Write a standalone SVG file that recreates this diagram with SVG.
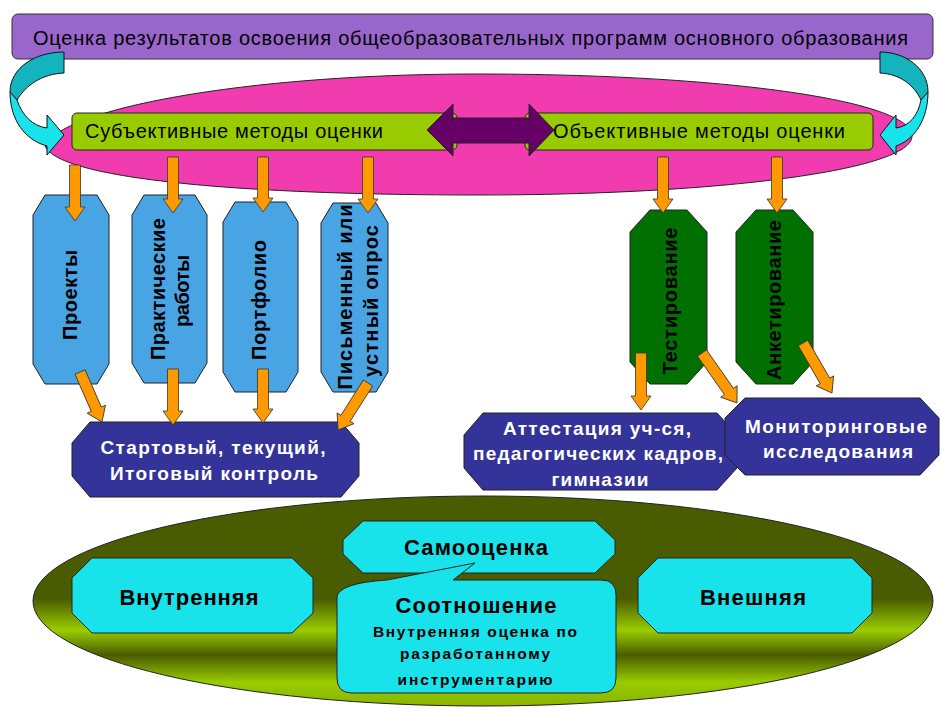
<svg xmlns="http://www.w3.org/2000/svg" width="941" height="707" viewBox="0 0 941 707">
<defs>
<linearGradient id="olive" gradientUnits="userSpaceOnUse" x1="0" y1="496" x2="0" y2="706">
<stop offset="0" stop-color="#4A5C00"/>
<stop offset="0.49" stop-color="#4A5C00"/>
<stop offset="0.64" stop-color="#99CC00"/>
<stop offset="0.757" stop-color="#4A5C00"/>
<stop offset="0.886" stop-color="#99CC00"/>
<stop offset="1" stop-color="#88B500"/>
</linearGradient>
<style>
text{font-family:"Liberation Sans",Arial,sans-serif}
.reg{font-size:20px;fill:#000}
.vb{font-size:20px;font-weight:bold;fill:#000}
.wb{font-size:19px;font-weight:bold;fill:#fff}
.cb{font-size:22px;font-weight:bold;fill:#000}
.sb{font-size:15.5px;font-weight:bold;fill:#000}
.blue{fill:#49A4E4;stroke:#222;stroke-width:1}
.green{fill:#007000;stroke:#222;stroke-width:1}
.navy{fill:#333399;stroke:#222;stroke-width:1}
.cyan{fill:#18E3EB;stroke:#222;stroke-width:1}
.lime{fill:#99CC00;stroke:#222;stroke-width:1}
.arr{fill:#FF9900;stroke:#333;stroke-width:0.8}
</style>
</defs>
<rect width="941" height="707" fill="#fff"/>

<g id="title">
<rect x="12" y="14" width="921" height="45" rx="6" fill="#9966CC" stroke="#333" stroke-width="1"/>
<text class="reg" x="33" y="45" textLength="875">Оценка результатов освоения общеобразовательных программ основного образования</text>
</g>

<g id="methods-ellipse">
<path d="M45,146 C60,110 240,74 478,74 C720,74 912,100 912,136 C912,170 720,195 478,195 C250,195 60,180 45,146 Z" fill="#F03CAF" stroke="#222" stroke-width="1"/>
</g>

<g id="subjective">
<rect class="lime" x="72" y="113" width="385" height="37" rx="5"/>
<text class="reg" x="85" y="138" textLength="298">Субъективные методы оценки</text>
</g>
<g id="objective">
<rect class="lime" x="525" y="113" width="348" height="37" rx="5"/>
<text class="reg" x="553" y="138" textLength="292">Объективные методы оценки</text>
</g>

<g id="projects">
<polygon class="blue" points="45,195 97,195 109,215 109,364 97,384 45,384 33,364 33,215"/>
<text class="vb" transform="translate(77,295) rotate(-90)" text-anchor="middle" textLength="90">Проекты</text>
</g>
<g id="practical">
<polygon class="blue" points="144,195 195,195 207,215 207,363 195,383 144,383 132,363 132,215"/>
<text class="vb" transform="translate(165,289) rotate(-90)" text-anchor="middle" textLength="142">Практические</text>
<text class="vb" transform="translate(189,291) rotate(-90)" text-anchor="middle" textLength="72">работы</text>
</g>
<g id="portfolio">
<polygon class="blue" points="235,202 286,202 298,222 298,372 286,392 235,392 223,372 223,222"/>
<text class="vb" transform="translate(266,300) rotate(-90)" text-anchor="middle" textLength="120">Портфолио</text>
</g>
<g id="survey">
<polygon class="blue" points="333,203 376,203 388,223 388,372 376,392 333,392 321,372 321,223"/>
<text class="vb" transform="translate(352,297) rotate(-90)" text-anchor="middle" textLength="185">Письменный или</text>
<text class="vb" transform="translate(378,301) rotate(-90)" text-anchor="middle" textLength="152">устный опрос</text>
</g>

<g id="testing">
<polygon class="green" points="650,210 687,210 707,232 707,362 687,384 650,384 630,362 630,232"/>
<text class="vb" transform="translate(677,301) rotate(-90)" text-anchor="middle" textLength="147">Тестирование</text>
</g>
<g id="questionnaire">
<polygon class="green" points="756,210 793,210 813,232 813,362 793,384 756,384 736,362 736,232"/>
<text class="vb" transform="translate(781,300) rotate(-90)" text-anchor="middle" textLength="160">Анкетирование</text>
</g>

<g id="control">
<polygon class="navy" points="90,422 341,422 359,443 359,476 341,497 90,497 72,476 72,443"/>
<text class="wb" x="213" y="454" text-anchor="middle" textLength="225">Стартовый, текущий,</text>
<text class="wb" x="214" y="480" text-anchor="middle" textLength="208">Итоговый контроль</text>
</g>
<g id="attestation">
<polygon class="navy" points="483,413 717,413 737,435 737,468 717,490 483,490 464,468 464,435"/>
<text class="wb" x="597" y="435" text-anchor="middle" textLength="188">Аттестация уч-ся,</text>
<text class="wb" x="598" y="460" text-anchor="middle" textLength="250">педагогических кадров,</text>
<text class="wb" x="600" y="486" text-anchor="middle" textLength="97">гимназии</text>
</g>
<g id="monitoring">
<polygon class="navy" points="745,398 920,398 939,418 939,455 920,475 745,475 725,455 725,418"/>
<text class="wb" x="836" y="433" text-anchor="middle" textLength="182">Мониторинговые</text>
<text class="wb" x="838" y="458" text-anchor="middle" textLength="150">исследования</text>
</g>

<g id="assessment-ellipse">
<ellipse cx="483" cy="601" rx="450" ry="105" fill="url(#olive)" stroke="#222" stroke-width="1"/>
</g>
<g id="internal">
<polygon class="cyan" points="92,558 292,558 313,578 313,613 292,633 92,633 72,613 72,578"/>
<text class="cb" x="189" y="605" text-anchor="middle" textLength="139">Внутренняя</text>
</g>
<g id="self">
<polygon class="cyan" points="363,521 595,521 615,540 615,554 595,573 363,573 343,554 343,540"/>
<text class="cb" x="476" y="555" text-anchor="middle" textLength="144">Самооценка</text>
</g>
<g id="external">
<polygon class="cyan" points="658,558 852,558 872,578 872,613 852,633 658,633 638,613 638,578"/>
<text class="cb" x="753" y="605" text-anchor="middle" textLength="106">Внешняя</text>
</g>
<g id="ratio">
<path class="cyan" d="M337,598 C337,588 355,582 387,580 L475,563 L453,580 L601,580 Q616,580 616,595 L616,678 Q616,693 601,693 L352,693 Q337,693 337,678 Z"/>
<text class="cb" x="476" y="613" text-anchor="middle" textLength="161">Соотношение</text>
<text class="sb" x="475" y="637" text-anchor="middle" textLength="204">Внутренняя оценка по</text>
<text class="sb" x="475" y="659" text-anchor="middle" textLength="150">разработанному</text>
<text class="sb" x="475" y="685" text-anchor="middle" textLength="155">инструментарию</text>
</g>

<g id="connectors">
<path d="M427,130 L453,104 L453,118 L529,118 L529,104 L554,130 L529,156 L529,143 L453,143 L453,156 Z" fill="#660066" stroke="#222" stroke-width="1"/>
<path d="M64,52 L64,73 C42,74 26,85 17,100 L10,92 C10,68 35,52 64,52 Z" fill="#14B4BE" stroke="#111" stroke-width="1"/>
<path d="M10,92 C10,120 25,140 47,146 L47,155 L64,135 L47,115 L47,128 C32,126 22,115 17,100 Z" fill="#18E3EB" stroke="#111" stroke-width="1"/>
<path d="M880,52 L880,73 C900,74 914,85 921,100 L928,92 C928,68 905,52 880,52 Z" fill="#14B4BE" stroke="#111" stroke-width="1"/>
<path d="M928,92 C928,120 914,140 896,146 L896,155 L880,135 L896,115 L896,128 C910,126 918,115 921,100 Z" fill="#18E3EB" stroke="#111" stroke-width="1"/>
<path class="arr" d="M69.5,165 L80.5,165 L80.5,207 L85,207 L75,221 L65,207 L69.5,207 Z"/>
<path class="arr" d="M167.5,157 L178.5,157 L178.5,199 L183,199 L173,213 L163,199 L167.5,199 Z"/>
<path class="arr" d="M257.5,157 L268.5,157 L268.5,198 L273,198 L263,212 L253,198 L257.5,198 Z"/>
<path class="arr" d="M362.5,157 L373.5,157 L373.5,199 L378,199 L368,213 L358,199 L362.5,199 Z"/>
<path class="arr" d="M657.5,157 L668.5,157 L668.5,199 L673,199 L663,213 L653,199 L657.5,199 Z"/>
<path class="arr" d="M771.5,157 L782.5,157 L782.5,199 L787,199 L777,213 L767,199 L771.5,199 Z"/>
<path class="arr" transform="translate(80,372) rotate(-23.7)" d="M-5.5,0 L5.5,0 L5.5,40.6 L10,40.6 L0,54.6 L-10,40.6 L-5.5,40.6 Z"/>
<path class="arr" d="M167.5,369 L178.5,369 L178.5,411 L183,411 L173,425 L163,411 L167.5,411 Z"/>
<path class="arr" d="M257.5,369 L268.5,369 L268.5,409 L273,409 L263,423 L253,409 L257.5,409 Z"/>
<path class="arr" transform="translate(368,383) rotate(32.5)" d="M-5.5,0 L5.5,0 L5.5,41.8 L10,41.8 L0,55.8 L-10,41.8 L-5.5,41.8 Z"/>
<path class="arr" d="M635.5,353 L646.5,353 L646.5,396 L651,396 L641,410 L631,396 L635.5,396 Z"/>
<path class="arr" transform="translate(702,353) rotate(-35)" d="M-5.5,0 L5.5,0 L5.5,47 L10,47 L0,61 L-10,47 L-5.5,47 Z"/>
<path class="arr" transform="translate(803,343) rotate(-30.1)" d="M-5.5,0 L5.5,0 L5.5,43.8 L10,43.8 L0,57.8 L-10,43.8 L-5.5,43.8 Z"/>
</g>
</svg>
